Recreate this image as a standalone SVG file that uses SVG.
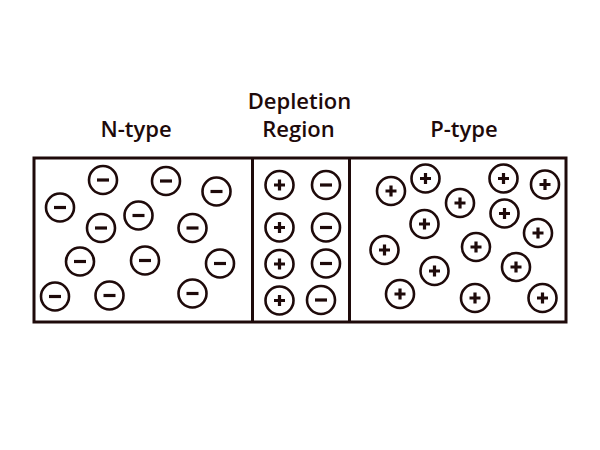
<svg xmlns="http://www.w3.org/2000/svg" width="600" height="450" viewBox="0 0 600 450">
<style>
.box{fill:none;stroke:#1e0a0a;stroke-width:3}
.c{fill:#fff;stroke:#1e0a0a;stroke-width:2.6}
.s{stroke:#1e0a0a;stroke-width:3.2;fill:none}
text{font-family:"Open Sans","Noto Sans",sans-serif;font-size:22px;font-weight:600;fill:#1e0a0a;text-anchor:middle}
</style>
<defs>
<g id="neg"><circle class="c" r="14"/><path class="s" d="M-6,0H6"/></g>
<g id="pos"><circle class="c" r="14"/><path class="s" d="M-5.5,0H5.5M0,-5.5V5.5"/></g>
</defs>
<rect width="600" height="450" fill="#fff"/>
<g id="labels">
<text x="136" y="137">N-type</text>
<text x="299.5" y="109">Depletion</text>
<text x="298.5" y="137">Region</text>
<text x="464" y="137">P-type</text>
</g>
<g id="connectors">
<rect class="box" x="34" y="158" width="532" height="164"/>
<path class="box" d="M252.5,158V322M349.5,158V322"/>
</g>
<g id="n-region">
<use href="#neg" x="103" y="180"/>
<use href="#neg" x="166" y="181"/>
<use href="#neg" x="216.5" y="191.5"/>
<use href="#neg" x="60" y="207.5"/>
<use href="#neg" x="138.5" y="215.5"/>
<use href="#neg" x="101" y="228"/>
<use href="#neg" x="192.5" y="228"/>
<use href="#neg" x="80" y="261.5"/>
<use href="#neg" x="145" y="260.5"/>
<use href="#neg" x="220" y="263.5"/>
<use href="#neg" x="55" y="296.5"/>
<use href="#neg" x="109.5" y="295.5"/>
<use href="#neg" x="192.5" y="293.5"/>
</g>
<g id="depletion-region">
<use href="#pos" x="279.5" y="185"/>
<use href="#pos" x="279.5" y="227.5"/>
<use href="#pos" x="279.5" y="264"/>
<use href="#pos" x="279.5" y="300.5"/>
<use href="#neg" x="326" y="185"/>
<use href="#neg" x="326" y="227.5"/>
<use href="#neg" x="326" y="263.5"/>
<use href="#neg" x="321" y="300"/>
</g>
<g id="p-region">
<use href="#pos" x="391" y="191"/>
<use href="#pos" x="425.5" y="178.5"/>
<use href="#pos" x="460" y="203"/>
<use href="#pos" x="503.5" y="178.5"/>
<use href="#pos" x="545" y="184.5"/>
<use href="#pos" x="424.5" y="224"/>
<use href="#pos" x="504.5" y="213.5"/>
<use href="#pos" x="538" y="233"/>
<use href="#pos" x="384.5" y="250"/>
<use href="#pos" x="476" y="247"/>
<use href="#pos" x="434.5" y="271"/>
<use href="#pos" x="516" y="267"/>
<use href="#pos" x="400" y="294"/>
<use href="#pos" x="475" y="298"/>
<use href="#pos" x="542.5" y="298"/>
</g>
</svg>
